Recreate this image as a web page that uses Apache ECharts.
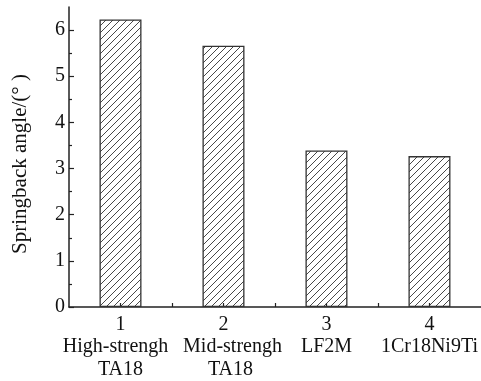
<!DOCTYPE html>
<html>
<head>
<meta charset="utf-8">
<script src="https://cdn.jsdelivr.net/npm/echarts@6/dist/echarts.min.js"></script>
<style>html,body{margin:0;padding:0;background:#fff}#c{width:481px;height:381px}</style>
</head>
<body>
<div id="c"></div>
<script>
var categoryLine1 = ['High-strengh', 'Mid-strengh', 'LF2M', '1Cr18Ni9Ti'];
var categoryLine2 = ['TA18', 'TA18', '', ''];
var positions = [1, 2, 3, 4];
var springback = [6.23, 5.66, 3.39, 3.27];
var yTicks = [0, 1, 2, 3, 4, 5, 6];
var yMinorTicks = [0.5, 1.5, 2.5, 3.5, 4.5, 5.5];
var xMinorTicks = [1.5, 2.5, 3.5];
var yName = 'Springback angle/(° )';

function hatch() {
  var s = 7;
  var c = document.createElement('canvas');
  c.width = s; c.height = s;
  var g = c.getContext('2d');
  g.strokeStyle = '#333';
  g.lineWidth = 0.9;
  g.beginPath();
  g.moveTo(-1, s + 1); g.lineTo(s + 1, -1);
  g.moveTo(-1, 1); g.lineTo(1, -1);
  g.moveTo(s - 1, s + 1); g.lineTo(s + 1, s - 1);
  g.stroke();
  return c;
}

var font = 'Liberation Serif';
var fs = 20;
var axisColor = '#222';
function rs(pad) { return { fontFamily: font, fontSize: fs, color: '#111', lineHeight: 22.5, padding: pad }; }
var labelStyle = {
  margin: 6, color: '#111', fontFamily: font, fontSize: fs, lineHeight: 22.5,
  showMinLabel: true, showMaxLabel: true, hideOverlap: false,
  formatter: function (v) {
    var i = positions.indexOf(v);
    if (i < 0) return '';
    var s = '{n|' + v + '}\n{a' + i + '|' + categoryLine1[i] + '}';
    if (categoryLine2[i]) s += '\n{b' + i + '|' + categoryLine2[i] + '}';
    return s;
  },
  rich: {
    n: rs([0, 0, 0, 0]),
    a0: rs([0, 10, 0, 0]), b0: rs([0, 0, 0, 0]),
    a1: rs([0, 0, 0, 18]), b1: rs([0, 0, 0, 14]),
    a2: rs([0, 0, 0, 0]), b2: rs([0, 0, 0, 0]),
    a3: rs([0, 0, 0, 0]), b3: rs([0, 0, 0, 0])
  }
};
var chart = echarts.init(document.getElementById('c'));
chart.setOption({
  animation: false,
  backgroundColor: '#fff',
  grid: { left: 69, right: -4, top: 7, bottom: 74, containLabel: false },
  xAxis: [{
    type: 'value', min: 0.5, max: 4.5,
    axisLine: { lineStyle: { color: axisColor, width: 1.5 } },
    axisTick: { inside: true, length: 4, customValues: positions, lineStyle: { color: axisColor, width: 1.2 } },
    axisLabel: Object.assign({ customValues: [positions[0], positions[2]] }, labelStyle),
    splitLine: { show: false }
  }, {
    type: 'value', min: 0.5, max: 4.5, position: 'bottom',
    axisLine: { show: false },
    axisTick: { inside: true, length: 4, customValues: xMinorTicks, lineStyle: { color: axisColor, width: 1.2 } },
    axisLabel: Object.assign({ customValues: [positions[1], positions[3]] }, labelStyle),
    splitLine: { show: false }
  }],
  yAxis: [{
    type: 'value', min: 0, max: 6.5,
    name: yName, nameLocation: 'middle', nameGap: 38,
    nameTextStyle: { fontFamily: font, fontSize: 21, color: '#111', padding: [0, 14, 0, 0] },
    axisLine: { show: true, lineStyle: { color: axisColor, width: 1.5 } },
    axisTick: { inside: true, length: 5, customValues: yTicks, lineStyle: { color: axisColor, width: 1.2 } },
    axisLabel: { customValues: yTicks, margin: 4, color: '#111', fontFamily: font, fontSize: fs, showMinLabel: true },
    splitLine: { show: false }
  }, {
    type: 'value', min: 0, max: 6.5, position: 'left',
    axisLine: { show: false },
    axisTick: { inside: true, length: 3, customValues: yMinorTicks, lineStyle: { color: axisColor, width: 1.2 } },
    axisLabel: { show: false }, splitLine: { show: false }
  }],
  series: [{
    type: 'bar', xAxisIndex: 0, yAxisIndex: 0,
    barWidth: 42,
    data: positions.map(function (p, i) { return [p, springback[i]]; }),
    itemStyle: { color: { image: hatch(), repeat: 'repeat' }, borderColor: '#333', borderWidth: 1.3 }
  }]
});
</script>
</body>
</html>
